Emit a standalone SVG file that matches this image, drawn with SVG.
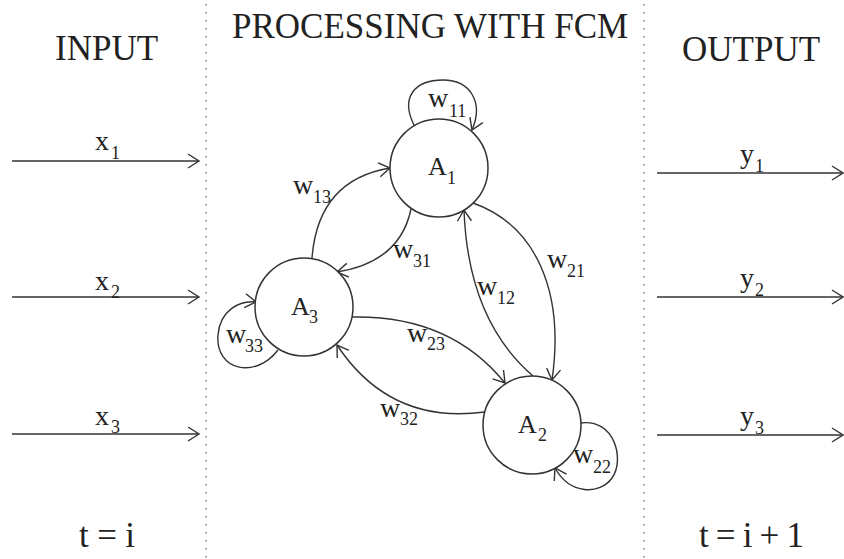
<svg xmlns="http://www.w3.org/2000/svg" width="844" height="559" viewBox="0 0 844 559">
<style>
text{font-family:"Liberation Serif","Times New Roman",serif;fill:#222}
.h{font-size:35px}
.l{font-size:28px}
.s{font-size:18px}
.a{font-size:26px}
.e{fill:none;stroke:#333;stroke-width:1.4}
.n{fill:#fff;stroke:#333;stroke-width:1.5}
.d{stroke:#888;stroke-width:1.6;stroke-dasharray:1.6 6.4}
</style>
<defs>
<marker id="ar" markerUnits="userSpaceOnUse" markerWidth="14" markerHeight="16" refX="12" refY="7" orient="auto" overflow="visible">
<path d="M1,0 L12,7 L1,14" fill="none" stroke="#333" stroke-width="1.4"/>
</marker>
</defs>
<g id="dividers">
<line class="d" x1="206" y1="4" x2="206" y2="559"/>
<line class="d" x1="644" y1="4" x2="644" y2="559"/>
</g>
<g id="headers">
<text class="h" x="55" y="60">INPUT</text>
<text class="h" x="232" y="38">PROCESSING WITH FCM</text>
<text class="h" x="682" y="61">OUTPUT</text>
<text class="h" x="79" y="547" textLength="56" lengthAdjust="spacing">t = i</text>
<text class="h" x="699" y="547" textLength="105" lengthAdjust="spacing">t = i + 1</text>
</g>
<g id="connectors">
<line class="e" x1="12" y1="161" x2="199" y2="161" marker-end="url(#ar)"/>
<line class="e" x1="12" y1="297" x2="199" y2="297" marker-end="url(#ar)"/>
<line class="e" x1="12" y1="434" x2="199" y2="434" marker-end="url(#ar)"/>
<line class="e" x1="657" y1="173" x2="843" y2="173" marker-end="url(#ar)"/>
<line class="e" x1="657" y1="297" x2="843" y2="297" marker-end="url(#ar)"/>
<line class="e" x1="657" y1="435" x2="843" y2="435" marker-end="url(#ar)"/>
<path class="e" d="M414,125 C400,97 415,80 443,80 C470,80 484,102 472,130" marker-end="url(#ar)"/>
<path class="e" d="M312,258 Q318,180 390,168" marker-end="url(#ar)"/>
<path class="e" d="M411,209 Q400,262 337,272" marker-end="url(#ar)"/>
<path class="e" d="M533,376 Q468,320 464,210" marker-end="url(#ar)"/>
<path class="e" d="M473,203 C535,225 565,290 552,380" marker-end="url(#ar)"/>
<path class="e" d="M352,317 Q450,315 505,383" marker-end="url(#ar)"/>
<path class="e" d="M485,412 Q390,425 337,345" marker-end="url(#ar)"/>
<path class="e" d="M278,350 C255,380 215,370 218,335 C220,310 240,300 256,302" marker-end="url(#ar)"/>
<path class="e" d="M580,423 C615,418 625,460 612,478 C600,495 570,495 555,468" marker-end="url(#ar)"/>
<text class="l" x="95" y="150">x</text><text class="s" x="111" y="159">1</text>
<text class="l" x="95" y="290">x</text><text class="s" x="111" y="298">2</text>
<text class="l" x="95" y="425">x</text><text class="s" x="111" y="433">3</text>
<text class="l" x="740" y="163">y</text><text class="s" x="755" y="172">1</text>
<text class="l" x="740" y="287">y</text><text class="s" x="755" y="296">2</text>
<text class="l" x="740" y="425">y</text><text class="s" x="755" y="434">3</text>
<text class="l" x="428" y="107">w</text><text class="s" x="449" y="117">11</text>
<text class="l" x="293" y="194">w</text><text class="s" x="313" y="203">13</text>
<text class="l" x="393" y="258">w</text><text class="s" x="413" y="267">31</text>
<text class="l" x="477" y="295">w</text><text class="s" x="497" y="304">12</text>
<text class="l" x="547" y="268">w</text><text class="s" x="567" y="277">21</text>
<text class="l" x="407" y="342">w</text><text class="s" x="427" y="350">23</text>
<text class="l" x="380" y="417">w</text><text class="s" x="400" y="425">32</text>
<text class="l" x="226" y="343">w</text><text class="s" x="245" y="352">33</text>
<text class="l" x="573" y="463">w</text><text class="s" x="593" y="473">22</text>
</g>
<g id="A1">
<circle class="n" cx="439" cy="168" r="49"/>
<text class="a" x="428" y="175">A</text><text class="s" x="447" y="184">1</text>
</g>
<g id="A3">
<circle class="n" cx="304" cy="307" r="49"/>
<text class="a" x="291" y="315">A</text><text class="s" x="309" y="323">3</text>
</g>
<g id="A2">
<circle class="n" cx="532" cy="425" r="49"/>
<text class="a" x="518" y="433">A</text><text class="s" x="538" y="441">2</text>
</g>
</svg>
